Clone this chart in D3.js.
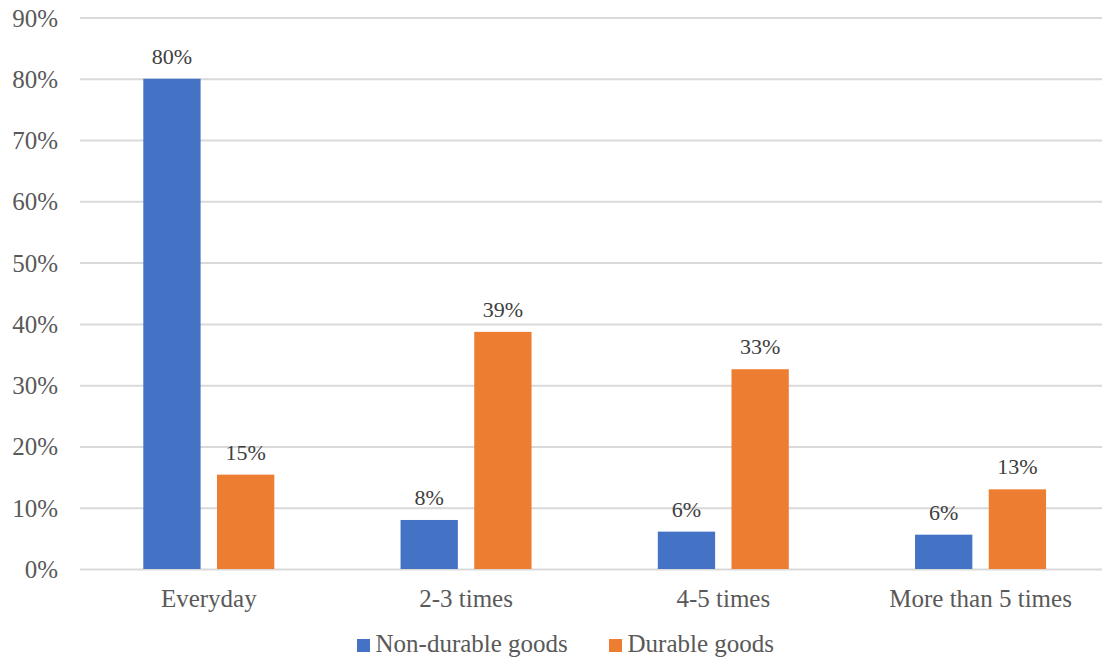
<!DOCTYPE html>
<html>
<head>
<meta charset="utf-8">
<script src="https://cdn.jsdelivr.net/npm/d3@7"></script>
<style>
  html, body { margin: 0; padding: 0; background: #fff; }
  svg { display: block; }
</style>
</head>
<body>
<svg id="chart" width="1102" height="658"></svg>
<script>
// Shopping frequency by type of goods
const categories = ["Everyday", "2-3 times", "4-5 times", "More than 5 times"];
const seriesNames = ["Non-durable goods", "Durable goods"];
const nonDurable = [0.80, 0.080, 0.061, 0.056];
const durable = [0.154, 0.387, 0.326, 0.130];
const yTicks = [0, 0.1, 0.2, 0.3, 0.4, 0.5, 0.6, 0.7, 0.8, 0.9];
const colors = ["#4472C4", "#ED7D31"];

const seriesValues = [nonDurable, durable];
const rows = categories.map((c, i) => ({
  category: c,
  values: seriesNames.map((s, j) => ({ series: s, value: seriesValues[j][i], color: colors[j] }))
}));

const FONT = "Liberation Serif";
const svg = d3.select("#chart").attr("font-family", FONT).style("font-family", FONT);
const textColor = "#595959";
const gridColor = "#d9d9d9";

const plotLeft = 80, plotRight = 1109, plotTop = 17.5, plotBottom = 569;

const y = d3.scaleLinear().domain([0, 0.9]).range([plotBottom, plotTop]);
const x0 = d3.scaleBand().domain(categories).range([plotLeft, plotRight]).padding(0);
const x1 = d3.scaleBand().domain(seriesNames).range([63.3, 194.3]).paddingInner(0.2225).paddingOuter(0);

const fmt = d3.format(".0%");

// Gridlines and tick labels
const yAxis = d3.axisLeft(y).tickValues(yTicks).tickFormat(fmt).tickSize(0).tickPadding(0);
const gAxis = svg.append("g").attr("transform", `translate(${plotLeft},0)`).call(yAxis)
  .attr("font-family", FONT).attr("font-size", null);
gAxis.select(".domain").remove();
gAxis.selectAll(".tick line")
  .attr("x2", plotRight - plotLeft)
  .attr("stroke", gridColor)
  .attr("stroke-width", 2);
gAxis.selectAll(".tick text")
  .attr("x", -22)
  .attr("dy", "0.34em")
  .attr("fill", textColor)
  .style("font-family", FONT)
  .style("font-size", "25px");

// Bars
const groups = svg.append("g").selectAll("g")
  .data(rows)
  .join("g")
  .attr("transform", d => `translate(${x0(d.category)},0)`);

groups.selectAll("rect")
  .data(d => d.values)
  .join("rect")
  .attr("x", d => x1(d.series))
  .attr("width", x1.bandwidth())
  .attr("y", d => y(d.value))
  .attr("height", d => y(0) - y(d.value))
  .attr("fill", d => d.color);

// Value labels
groups.selectAll("text")
  .data(d => d.values)
  .join("text")
  .attr("x", d => x1(d.series) + x1.bandwidth() / 2)
  .attr("y", d => y(d.value) - 15)
  .attr("text-anchor", "middle")
  .attr("fill", "#404040")
  .style("font-family", FONT)
  .style("font-size", "22px")
  .text(d => fmt(d.value));

// Category axis
const xAxis = d3.axisBottom(x0).tickSize(0).tickPadding(0);
const gx = svg.append("g").attr("transform", `translate(0,${plotBottom})`).call(xAxis)
  .attr("font-family", FONT).attr("font-size", null);
gx.select(".domain").remove();
gx.selectAll(".tick text")
  .attr("y", 38)
  .attr("dy", 0)
  .attr("x", 63.3 + 65.5 - x0.bandwidth() / 2)
  .attr("fill", textColor)
  .style("font-family", FONT)
  .style("font-size", "25px");

// Legend
const legendItems = [
  { name: seriesNames[0], color: colors[0], x: 357 },
  { name: seriesNames[1], color: colors[1], x: 609 }
];
const legend = svg.append("g").selectAll("g")
  .data(legendItems)
  .join("g")
  .attr("transform", d => `translate(${d.x},639)`);
legend.append("rect").attr("width", 13).attr("height", 13).attr("fill", d => d.color);
legend.append("text")
  .attr("x", 18.5)
  .attr("y", 13)
  .attr("fill", textColor)
  .style("font-family", FONT)
  .style("font-size", "25px")
  .text(d => d.name);
</script>
</body>
</html>
